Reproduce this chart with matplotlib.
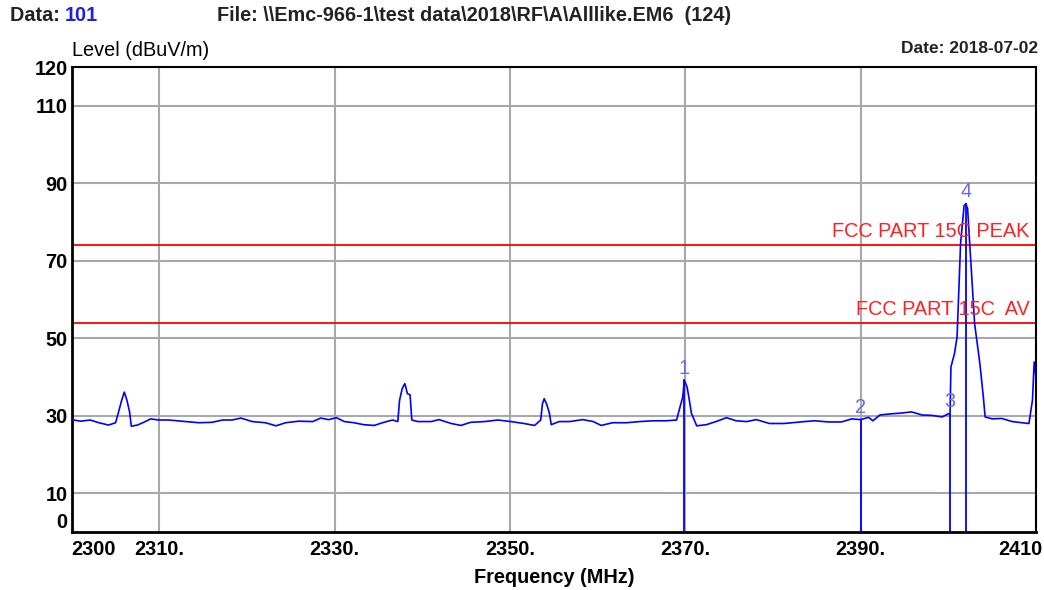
import numpy as np
import matplotlib
matplotlib.use("Agg")
import matplotlib.pyplot as plt
import matplotlib.transforms as mtransforms

plt.rcParams["font.family"] = ["Liberation Sans", "DejaVu Sans"]

# trace (MHz, dBuV/m)
freq = [2300.0, 2301.0, 2302.1, 2303.1, 2304.2, 2305.0, 2305.3, 2305.7, 2306.0, 2306.3,
        2306.6, 2306.8, 2307.5, 2308.4, 2309.0, 2309.9, 2311.1, 2313.0, 2314.5, 2316.0,
        2317.2, 2318.3, 2319.3, 2320.6, 2322.1, 2323.3, 2324.4, 2325.9, 2327.5, 2328.4,
        2329.3, 2330.2, 2331.1, 2332.2, 2333.3, 2334.5, 2335.6, 2336.6, 2337.2, 2337.4,
        2337.7, 2338.0, 2338.3, 2338.6, 2338.8, 2339.5, 2341.0, 2341.9, 2343.3, 2344.4,
        2345.5, 2347.1, 2348.6, 2350.1, 2351.6, 2352.8, 2353.5, 2353.7, 2353.9, 2354.2,
        2354.5, 2354.7, 2355.6, 2356.8, 2358.3, 2359.5, 2360.4, 2361.7, 2363.3, 2364.8,
        2366.3, 2367.8, 2369.0, 2369.4, 2369.7, 2369.9, 2370.2, 2370.4, 2370.7, 2371.3,
        2372.4, 2373.5, 2374.7, 2375.8, 2377.0, 2378.1, 2379.6, 2381.2, 2382.7, 2383.6,
        2384.8, 2386.3, 2387.8, 2389.0, 2390.0, 2390.9, 2391.4, 2392.2, 2393.5, 2394.7,
        2395.8, 2397.0, 2398.1, 2399.3, 2400.0, 2400.2, 2400.3, 2400.7, 2401.0, 2401.4,
        2401.8, 2402.0, 2402.2, 2402.4, 2402.7, 2403.0, 2403.6, 2404.0, 2404.2, 2405.0,
        2406.1, 2407.3, 2408.4, 2409.2, 2409.6, 2409.8, 2410.0]
level = [29.0, 28.6, 28.9, 28.2, 27.6, 28.2, 30.6, 34.0, 36.1, 34.0,
         31.0, 27.3, 27.6, 28.5, 29.2, 28.9, 28.9, 28.5, 28.2, 28.3,
         28.9, 28.9, 29.4, 28.5, 28.2, 27.4, 28.2, 28.6, 28.5, 29.4,
         29.0, 29.5, 28.5, 28.2, 27.7, 27.5, 28.3, 28.9, 28.5, 34.0,
         37.0, 38.3, 35.7, 35.4, 28.9, 28.5, 28.5, 29.0, 28.0, 27.5,
         28.3, 28.5, 28.9, 28.5, 28.0, 27.5, 28.9, 33.1, 34.4, 32.9,
         30.6, 27.7, 28.5, 28.5, 29.0, 28.5, 27.5, 28.2, 28.2, 28.5,
         28.7, 28.7, 28.9, 32.3, 34.8, 39.1, 37.4, 34.8, 30.6, 27.4,
         27.7, 28.5, 29.5, 28.7, 28.5, 29.0, 28.0, 28.0, 28.3, 28.5,
         28.7, 28.4, 28.4, 29.2, 29.0, 29.6, 28.7, 30.2, 30.5, 30.7,
         31.0, 30.2, 30.1, 29.7, 30.5, 30.5, 42.6, 46.0, 50.3, 74.4,
         84.2, 84.7, 83.5, 76.0, 65.0, 53.8, 43.5, 34.8, 29.7, 29.2,
         29.3, 28.5, 28.2, 28.0, 34.0, 43.9, 40.0]

# markers
mk_no = ["1", "2", "3", "4"]
mk_freq = [2369.9, 2390.0, 2400.2, 2402.0]
mk_level = [39.1, 29.0, 30.5, 84.7]

# limit lines
lim_names = ["FCC PART 15C PEAK", "FCC PART 15C  AV"]
lim_values = [74, 54]

yticks = [0, 10, 30, 50, 70, 90, 110, 120]
xticks = [2300, 2310, 2330, 2350, 2370, 2390, 2410]
xlabels = ["2300", "2310.", "2330.", "2350.", "2370.", "2390.", "2410"]

FS = 14.3

fig = plt.figure(figsize=(10.44, 5.90), dpi=100)
ax = fig.add_axes([0.0687, 0.0983, 0.9236, 0.7881])

ax.set_xlim(2300, 2410)
ax.set_ylim(0, 120)
for y in [10, 30, 50, 70, 90, 110]:
    ax.axhline(y, color="#a8a8a8", lw=1.5, zorder=1)
for x in [2310, 2330, 2350, 2370, 2390]:
    ax.axvline(x, color="#a8a8a8", lw=1.5, zorder=1)

for name, v in zip(lim_names, lim_values):
    ax.axhline(v, color="#ff0000", lw=1.3, zorder=2)
    ax.text(2409.3, v + 1.0, name, color="#ff2020", fontsize=FS,
            ha="right", va="bottom", zorder=4)

ax.plot(freq, level, color="#0000ff", lw=1.2, zorder=3)

for n, f, l in zip(mk_no, mk_freq, mk_level):
    ax.plot([f, f], [0, l], color="#0000ff", lw=1.3, zorder=3)
    ax.annotate(n, (f, l), xytext=(0, 2), textcoords="offset points",
                ha="center", va="bottom", color="#6a6aee", fontsize=FS, zorder=5)

ax.set_yticks(yticks)
ax.set_yticklabels([str(t) for t in yticks], fontsize=FS, fontweight="bold")
ax.set_xticks(xticks)
ax.set_xticklabels(xlabels, fontsize=FS, fontweight="bold")
ax.tick_params(length=0)
ax.tick_params(axis="x", pad=6)
ax.tick_params(axis="y", pad=3)
xl = ax.get_xticklabels()
xl[0].set_ha("left")
xl[-1].set_ha("right")
xl[-1].set_transform(xl[-1].get_transform() +
                     mtransforms.ScaledTranslation(0.07, 0, fig.dpi_scale_trans))
ax.get_yticklabels()[0].set_va("bottom")
for s in ax.spines.values():
    s.set_linewidth(1.5)
ax.spines["left"].set_linewidth(2)
ax.spines["bottom"].set_linewidth(2)

ax.set_xlabel("Frequency (MHz)", fontsize=FS, fontweight="bold", labelpad=6)

fig.text(0.069, 0.915, "Level (dBuV/m)", fontsize=FS, va="center", ha="left")
fig.text(0.994, 0.918, "Date: 2018-07-02", fontsize=12.5, fontweight="bold",
         va="center", ha="right", color="#222222")
fig.text(0.010, 0.973, "Data: ", fontsize=FS, fontweight="bold",
         va="center", ha="left", color="#222222")
fig.text(0.062, 0.973, "101", fontsize=FS, fontweight="bold",
         va="center", ha="left", color="#2020e0")
fig.text(0.208, 0.973, "File: \\\\Emc-966-1\\test data\\2018\\RF\\A\\Alllike.EM6  (124)",
         fontsize=FS, fontweight="bold", va="center", ha="left", color="#222222")

fig.savefig("out.png", dpi=100)
